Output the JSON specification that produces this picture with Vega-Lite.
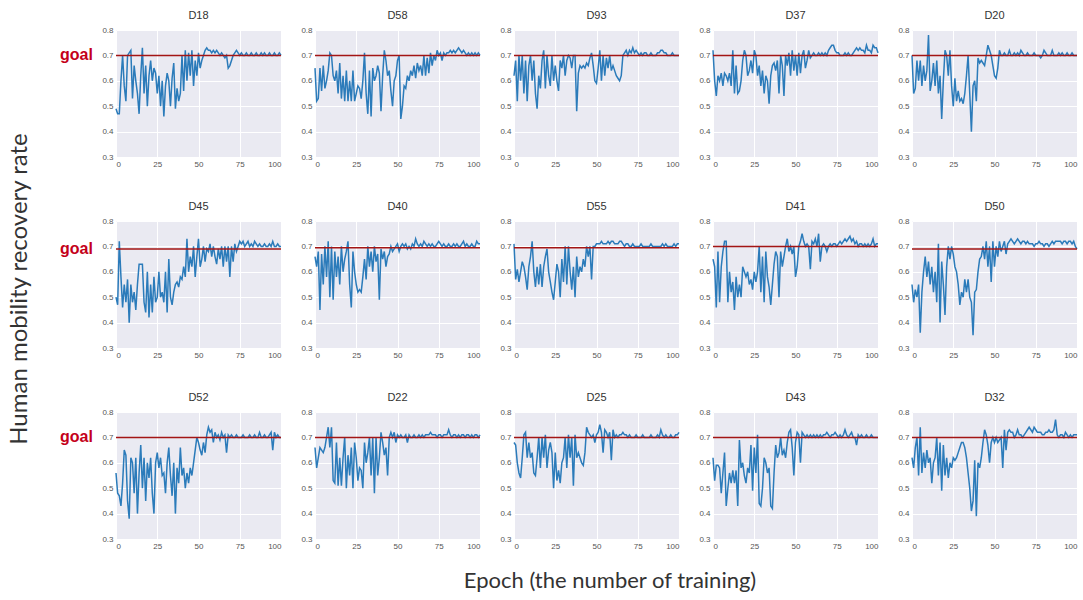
{
"$schema": "https://vega.github.io/schema/vega-lite/v6.json",
"background": "white",
"padding": {"left": 8, "top": 10, "right": 2, "bottom": 2},
"config": {
  "view": {"fill": "#eaeaf2", "stroke": null},
  "axis": {"grid": true, "gridColor": "white", "gridWidth": 1, "domain": false, "ticks": false, "labelFontSize": 8, "labelColor": "#555", "labelFont": "Liberation Sans", "labelPadding": 3, "labelOverlap": false, "labelBound": false, "title": null},
  "axisY": {"tickCount": 6, "format": ".1f"},
  "title": {"fontSize": 11, "fontWeight": "normal", "color": "#333", "font": "Liberation Sans", "offset": 5},
  "concat": {"spacing": 16}
},
"datasets": {
"D18": [{"e":0,"v":0.49},{"e":1,"v":0.47},{"e":2,"v":0.47},{"e":3,"v":0.60},{"e":4,"v":0.70},{"e":5,"v":0.58},{"e":6,"v":0.52},{"e":7,"v":0.70},{"e":8,"v":0.71},{"e":9,"v":0.72},{"e":10,"v":0.53},{"e":11,"v":0.66},{"e":12,"v":0.60},{"e":13,"v":0.55},{"e":14,"v":0.47},{"e":15,"v":0.62},{"e":16,"v":0.73},{"e":17,"v":0.55},{"e":18,"v":0.66},{"e":19,"v":0.50},{"e":20,"v":0.62},{"e":21,"v":0.68},{"e":22,"v":0.60},{"e":23,"v":0.65},{"e":24,"v":0.63},{"e":25,"v":0.55},{"e":26,"v":0.62},{"e":27,"v":0.50},{"e":28,"v":0.60},{"e":29,"v":0.46},{"e":30,"v":0.58},{"e":31,"v":0.63},{"e":32,"v":0.60},{"e":33,"v":0.50},{"e":34,"v":0.61},{"e":35,"v":0.67},{"e":36,"v":0.49},{"e":37,"v":0.57},{"e":38,"v":0.52},{"e":39,"v":0.55},{"e":40,"v":0.70},{"e":41,"v":0.56},{"e":42,"v":0.72},{"e":43,"v":0.60},{"e":44,"v":0.71},{"e":45,"v":0.62},{"e":46,"v":0.72},{"e":47,"v":0.58},{"e":48,"v":0.68},{"e":49,"v":0.62},{"e":50,"v":0.71},{"e":51,"v":0.65},{"e":52,"v":0.68},{"e":53,"v":0.70},{"e":54,"v":0.72},{"e":55,"v":0.73},{"e":56,"v":0.72},{"e":57,"v":0.72},{"e":58,"v":0.71},{"e":59,"v":0.72},{"e":60,"v":0.71},{"e":61,"v":0.72},{"e":62,"v":0.71},{"e":63,"v":0.70},{"e":64,"v":0.71},{"e":65,"v":0.70},{"e":66,"v":0.69},{"e":67,"v":0.70},{"e":68,"v":0.65},{"e":69,"v":0.66},{"e":70,"v":0.68},{"e":71,"v":0.70},{"e":72,"v":0.71},{"e":73,"v":0.72},{"e":74,"v":0.71},{"e":75,"v":0.70},{"e":76,"v":0.71},{"e":77,"v":0.70},{"e":78,"v":0.70},{"e":79,"v":0.71},{"e":80,"v":0.70},{"e":81,"v":0.70},{"e":82,"v":0.71},{"e":83,"v":0.70},{"e":84,"v":0.70},{"e":85,"v":0.71},{"e":86,"v":0.70},{"e":87,"v":0.70},{"e":88,"v":0.71},{"e":89,"v":0.70},{"e":90,"v":0.71},{"e":91,"v":0.70},{"e":92,"v":0.70},{"e":93,"v":0.71},{"e":94,"v":0.70},{"e":95,"v":0.70},{"e":96,"v":0.71},{"e":97,"v":0.70},{"e":98,"v":0.70},{"e":99,"v":0.71},{"e":100,"v":0.70}],
"D58": [{"e":0,"v":0.65},{"e":1,"v":0.52},{"e":2,"v":0.53},{"e":3,"v":0.65},{"e":4,"v":0.56},{"e":5,"v":0.66},{"e":6,"v":0.57},{"e":7,"v":0.60},{"e":8,"v":0.64},{"e":9,"v":0.71},{"e":10,"v":0.70},{"e":11,"v":0.62},{"e":12,"v":0.60},{"e":13,"v":0.64},{"e":14,"v":0.55},{"e":15,"v":0.67},{"e":16,"v":0.53},{"e":17,"v":0.62},{"e":18,"v":0.52},{"e":19,"v":0.64},{"e":20,"v":0.52},{"e":21,"v":0.60},{"e":22,"v":0.52},{"e":23,"v":0.64},{"e":24,"v":0.52},{"e":25,"v":0.55},{"e":26,"v":0.58},{"e":27,"v":0.57},{"e":28,"v":0.53},{"e":29,"v":0.60},{"e":30,"v":0.71},{"e":31,"v":0.55},{"e":32,"v":0.47},{"e":33,"v":0.64},{"e":34,"v":0.46},{"e":35,"v":0.65},{"e":36,"v":0.60},{"e":37,"v":0.62},{"e":38,"v":0.66},{"e":39,"v":0.63},{"e":40,"v":0.48},{"e":41,"v":0.62},{"e":42,"v":0.72},{"e":43,"v":0.68},{"e":44,"v":0.62},{"e":45,"v":0.64},{"e":46,"v":0.56},{"e":47,"v":0.50},{"e":48,"v":0.60},{"e":49,"v":0.62},{"e":50,"v":0.68},{"e":51,"v":0.70},{"e":52,"v":0.45},{"e":53,"v":0.50},{"e":54,"v":0.58},{"e":55,"v":0.57},{"e":56,"v":0.62},{"e":57,"v":0.60},{"e":58,"v":0.64},{"e":59,"v":0.62},{"e":60,"v":0.66},{"e":61,"v":0.61},{"e":62,"v":0.67},{"e":63,"v":0.64},{"e":64,"v":0.66},{"e":65,"v":0.62},{"e":66,"v":0.70},{"e":67,"v":0.62},{"e":68,"v":0.69},{"e":69,"v":0.63},{"e":70,"v":0.71},{"e":71,"v":0.66},{"e":72,"v":0.70},{"e":73,"v":0.68},{"e":74,"v":0.72},{"e":75,"v":0.70},{"e":76,"v":0.71},{"e":77,"v":0.68},{"e":78,"v":0.71},{"e":79,"v":0.70},{"e":80,"v":0.71},{"e":81,"v":0.71},{"e":82,"v":0.72},{"e":83,"v":0.71},{"e":84,"v":0.72},{"e":85,"v":0.71},{"e":86,"v":0.72},{"e":87,"v":0.73},{"e":88,"v":0.72},{"e":89,"v":0.71},{"e":90,"v":0.72},{"e":91,"v":0.71},{"e":92,"v":0.70},{"e":93,"v":0.71},{"e":94,"v":0.70},{"e":95,"v":0.71},{"e":96,"v":0.70},{"e":97,"v":0.71},{"e":98,"v":0.70},{"e":99,"v":0.71},{"e":100,"v":0.70}],
"D93": [{"e":0,"v":0.62},{"e":1,"v":0.68},{"e":2,"v":0.52},{"e":3,"v":0.70},{"e":4,"v":0.60},{"e":5,"v":0.70},{"e":6,"v":0.55},{"e":7,"v":0.68},{"e":8,"v":0.52},{"e":9,"v":0.66},{"e":10,"v":0.70},{"e":11,"v":0.60},{"e":12,"v":0.68},{"e":13,"v":0.55},{"e":14,"v":0.49},{"e":15,"v":0.62},{"e":16,"v":0.57},{"e":17,"v":0.68},{"e":18,"v":0.72},{"e":19,"v":0.57},{"e":20,"v":0.70},{"e":21,"v":0.62},{"e":22,"v":0.58},{"e":23,"v":0.70},{"e":24,"v":0.60},{"e":25,"v":0.66},{"e":26,"v":0.60},{"e":27,"v":0.56},{"e":28,"v":0.68},{"e":29,"v":0.65},{"e":30,"v":0.70},{"e":31,"v":0.62},{"e":32,"v":0.68},{"e":33,"v":0.70},{"e":34,"v":0.69},{"e":35,"v":0.65},{"e":36,"v":0.70},{"e":37,"v":0.70},{"e":38,"v":0.48},{"e":39,"v":0.63},{"e":40,"v":0.66},{"e":41,"v":0.65},{"e":42,"v":0.66},{"e":43,"v":0.65},{"e":44,"v":0.67},{"e":45,"v":0.66},{"e":46,"v":0.69},{"e":47,"v":0.71},{"e":48,"v":0.66},{"e":49,"v":0.60},{"e":50,"v":0.59},{"e":51,"v":0.65},{"e":52,"v":0.72},{"e":53,"v":0.60},{"e":54,"v":0.70},{"e":55,"v":0.62},{"e":56,"v":0.69},{"e":57,"v":0.65},{"e":58,"v":0.70},{"e":59,"v":0.64},{"e":60,"v":0.66},{"e":61,"v":0.64},{"e":62,"v":0.62},{"e":63,"v":0.61},{"e":64,"v":0.60},{"e":65,"v":0.62},{"e":66,"v":0.70},{"e":67,"v":0.71},{"e":68,"v":0.72},{"e":69,"v":0.70},{"e":70,"v":0.72},{"e":71,"v":0.71},{"e":72,"v":0.73},{"e":73,"v":0.71},{"e":74,"v":0.72},{"e":75,"v":0.71},{"e":76,"v":0.70},{"e":77,"v":0.71},{"e":78,"v":0.70},{"e":79,"v":0.71},{"e":80,"v":0.71},{"e":81,"v":0.70},{"e":82,"v":0.70},{"e":83,"v":0.71},{"e":84,"v":0.70},{"e":85,"v":0.70},{"e":86,"v":0.70},{"e":87,"v":0.71},{"e":88,"v":0.71},{"e":89,"v":0.72},{"e":90,"v":0.72},{"e":91,"v":0.71},{"e":92,"v":0.71},{"e":93,"v":0.70},{"e":94,"v":0.70},{"e":95,"v":0.70},{"e":96,"v":0.71},{"e":97,"v":0.70},{"e":98,"v":0.70},{"e":99,"v":0.70},{"e":100,"v":0.70}],
"D37": [{"e":0,"v":0.72},{"e":1,"v":0.60},{"e":2,"v":0.54},{"e":3,"v":0.62},{"e":4,"v":0.60},{"e":5,"v":0.63},{"e":6,"v":0.58},{"e":7,"v":0.63},{"e":8,"v":0.62},{"e":9,"v":0.60},{"e":10,"v":0.63},{"e":11,"v":0.58},{"e":12,"v":0.72},{"e":13,"v":0.55},{"e":14,"v":0.66},{"e":15,"v":0.55},{"e":16,"v":0.56},{"e":17,"v":0.60},{"e":18,"v":0.68},{"e":19,"v":0.72},{"e":20,"v":0.70},{"e":21,"v":0.62},{"e":22,"v":0.64},{"e":23,"v":0.68},{"e":24,"v":0.63},{"e":25,"v":0.72},{"e":26,"v":0.70},{"e":27,"v":0.62},{"e":28,"v":0.66},{"e":29,"v":0.58},{"e":30,"v":0.64},{"e":31,"v":0.55},{"e":32,"v":0.62},{"e":33,"v":0.60},{"e":34,"v":0.51},{"e":35,"v":0.62},{"e":36,"v":0.66},{"e":37,"v":0.67},{"e":38,"v":0.64},{"e":39,"v":0.68},{"e":40,"v":0.55},{"e":41,"v":0.70},{"e":42,"v":0.66},{"e":43,"v":0.54},{"e":44,"v":0.70},{"e":45,"v":0.66},{"e":46,"v":0.71},{"e":47,"v":0.62},{"e":48,"v":0.72},{"e":49,"v":0.64},{"e":50,"v":0.70},{"e":51,"v":0.62},{"e":52,"v":0.71},{"e":53,"v":0.63},{"e":54,"v":0.70},{"e":55,"v":0.72},{"e":56,"v":0.65},{"e":57,"v":0.68},{"e":58,"v":0.72},{"e":59,"v":0.69},{"e":60,"v":0.70},{"e":61,"v":0.71},{"e":62,"v":0.70},{"e":63,"v":0.70},{"e":64,"v":0.71},{"e":65,"v":0.70},{"e":66,"v":0.71},{"e":67,"v":0.70},{"e":68,"v":0.71},{"e":69,"v":0.70},{"e":70,"v":0.72},{"e":71,"v":0.73},{"e":72,"v":0.74},{"e":73,"v":0.74},{"e":74,"v":0.72},{"e":75,"v":0.71},{"e":76,"v":0.71},{"e":77,"v":0.70},{"e":78,"v":0.70},{"e":79,"v":0.70},{"e":80,"v":0.71},{"e":81,"v":0.70},{"e":82,"v":0.71},{"e":83,"v":0.70},{"e":84,"v":0.70},{"e":85,"v":0.71},{"e":86,"v":0.72},{"e":87,"v":0.73},{"e":88,"v":0.72},{"e":89,"v":0.73},{"e":90,"v":0.72},{"e":91,"v":0.72},{"e":92,"v":0.71},{"e":93,"v":0.74},{"e":94,"v":0.72},{"e":95,"v":0.72},{"e":96,"v":0.71},{"e":97,"v":0.74},{"e":98,"v":0.73},{"e":99,"v":0.73},{"e":100,"v":0.71}],
"D20": [{"e":0,"v":0.70},{"e":1,"v":0.55},{"e":2,"v":0.57},{"e":3,"v":0.68},{"e":4,"v":0.60},{"e":5,"v":0.68},{"e":6,"v":0.58},{"e":7,"v":0.66},{"e":8,"v":0.60},{"e":9,"v":0.64},{"e":10,"v":0.78},{"e":11,"v":0.56},{"e":12,"v":0.60},{"e":13,"v":0.67},{"e":14,"v":0.58},{"e":15,"v":0.68},{"e":16,"v":0.55},{"e":17,"v":0.62},{"e":18,"v":0.45},{"e":19,"v":0.60},{"e":20,"v":0.72},{"e":21,"v":0.70},{"e":22,"v":0.62},{"e":23,"v":0.72},{"e":24,"v":0.58},{"e":25,"v":0.50},{"e":26,"v":0.61},{"e":27,"v":0.52},{"e":28,"v":0.56},{"e":29,"v":0.52},{"e":30,"v":0.53},{"e":31,"v":0.51},{"e":32,"v":0.55},{"e":33,"v":0.62},{"e":34,"v":0.70},{"e":35,"v":0.55},{"e":36,"v":0.40},{"e":37,"v":0.58},{"e":38,"v":0.60},{"e":39,"v":0.52},{"e":40,"v":0.69},{"e":41,"v":0.67},{"e":42,"v":0.68},{"e":43,"v":0.67},{"e":44,"v":0.66},{"e":45,"v":0.70},{"e":46,"v":0.74},{"e":47,"v":0.72},{"e":48,"v":0.70},{"e":49,"v":0.66},{"e":50,"v":0.62},{"e":51,"v":0.61},{"e":52,"v":0.65},{"e":53,"v":0.72},{"e":54,"v":0.70},{"e":55,"v":0.70},{"e":56,"v":0.71},{"e":57,"v":0.70},{"e":58,"v":0.70},{"e":59,"v":0.72},{"e":60,"v":0.70},{"e":61,"v":0.70},{"e":62,"v":0.71},{"e":63,"v":0.70},{"e":64,"v":0.71},{"e":65,"v":0.70},{"e":66,"v":0.72},{"e":67,"v":0.71},{"e":68,"v":0.70},{"e":69,"v":0.70},{"e":70,"v":0.71},{"e":71,"v":0.70},{"e":72,"v":0.70},{"e":73,"v":0.70},{"e":74,"v":0.71},{"e":75,"v":0.70},{"e":76,"v":0.70},{"e":77,"v":0.70},{"e":78,"v":0.69},{"e":79,"v":0.70},{"e":80,"v":0.72},{"e":81,"v":0.71},{"e":82,"v":0.70},{"e":83,"v":0.70},{"e":84,"v":0.70},{"e":85,"v":0.72},{"e":86,"v":0.70},{"e":87,"v":0.70},{"e":88,"v":0.70},{"e":89,"v":0.71},{"e":90,"v":0.70},{"e":91,"v":0.71},{"e":92,"v":0.70},{"e":93,"v":0.70},{"e":94,"v":0.71},{"e":95,"v":0.70},{"e":96,"v":0.70},{"e":97,"v":0.71},{"e":98,"v":0.70},{"e":99,"v":0.70},{"e":100,"v":0.70}],
"D45": [{"e":0,"v":0.50},{"e":1,"v":0.47},{"e":2,"v":0.72},{"e":3,"v":0.58},{"e":4,"v":0.46},{"e":5,"v":0.55},{"e":6,"v":0.48},{"e":7,"v":0.57},{"e":8,"v":0.40},{"e":9,"v":0.55},{"e":10,"v":0.48},{"e":11,"v":0.52},{"e":12,"v":0.45},{"e":13,"v":0.55},{"e":14,"v":0.63},{"e":15,"v":0.63},{"e":16,"v":0.63},{"e":17,"v":0.48},{"e":18,"v":0.44},{"e":19,"v":0.60},{"e":20,"v":0.42},{"e":21,"v":0.55},{"e":22,"v":0.44},{"e":23,"v":0.58},{"e":24,"v":0.48},{"e":25,"v":0.50},{"e":26,"v":0.60},{"e":27,"v":0.50},{"e":28,"v":0.52},{"e":29,"v":0.48},{"e":30,"v":0.60},{"e":31,"v":0.44},{"e":32,"v":0.65},{"e":33,"v":0.50},{"e":34,"v":0.47},{"e":35,"v":0.52},{"e":36,"v":0.55},{"e":37,"v":0.56},{"e":38,"v":0.54},{"e":39,"v":0.58},{"e":40,"v":0.57},{"e":41,"v":0.62},{"e":42,"v":0.58},{"e":43,"v":0.73},{"e":44,"v":0.60},{"e":45,"v":0.66},{"e":46,"v":0.62},{"e":47,"v":0.70},{"e":48,"v":0.58},{"e":49,"v":0.66},{"e":50,"v":0.73},{"e":51,"v":0.62},{"e":52,"v":0.65},{"e":53,"v":0.70},{"e":54,"v":0.64},{"e":55,"v":0.69},{"e":56,"v":0.68},{"e":57,"v":0.71},{"e":58,"v":0.66},{"e":59,"v":0.70},{"e":60,"v":0.66},{"e":61,"v":0.63},{"e":62,"v":0.69},{"e":63,"v":0.65},{"e":64,"v":0.70},{"e":65,"v":0.62},{"e":66,"v":0.70},{"e":67,"v":0.64},{"e":68,"v":0.70},{"e":69,"v":0.58},{"e":70,"v":0.70},{"e":71,"v":0.64},{"e":72,"v":0.71},{"e":73,"v":0.68},{"e":74,"v":0.70},{"e":75,"v":0.72},{"e":76,"v":0.71},{"e":77,"v":0.72},{"e":78,"v":0.70},{"e":79,"v":0.71},{"e":80,"v":0.72},{"e":81,"v":0.70},{"e":82,"v":0.71},{"e":83,"v":0.70},{"e":84,"v":0.72},{"e":85,"v":0.71},{"e":86,"v":0.70},{"e":87,"v":0.71},{"e":88,"v":0.70},{"e":89,"v":0.70},{"e":90,"v":0.71},{"e":91,"v":0.70},{"e":92,"v":0.70},{"e":93,"v":0.71},{"e":94,"v":0.70},{"e":95,"v":0.72},{"e":96,"v":0.70},{"e":97,"v":0.70},{"e":98,"v":0.71},{"e":99,"v":0.70},{"e":100,"v":0.70}],
"D40": [{"e":0,"v":0.66},{"e":1,"v":0.62},{"e":2,"v":0.68},{"e":3,"v":0.45},{"e":4,"v":0.67},{"e":5,"v":0.55},{"e":6,"v":0.70},{"e":7,"v":0.58},{"e":8,"v":0.72},{"e":9,"v":0.50},{"e":10,"v":0.70},{"e":11,"v":0.49},{"e":12,"v":0.68},{"e":13,"v":0.58},{"e":14,"v":0.66},{"e":15,"v":0.55},{"e":16,"v":0.70},{"e":17,"v":0.60},{"e":18,"v":0.65},{"e":19,"v":0.68},{"e":20,"v":0.72},{"e":21,"v":0.55},{"e":22,"v":0.46},{"e":23,"v":0.68},{"e":24,"v":0.60},{"e":25,"v":0.55},{"e":26,"v":0.52},{"e":27,"v":0.53},{"e":28,"v":0.52},{"e":29,"v":0.58},{"e":30,"v":0.65},{"e":31,"v":0.57},{"e":32,"v":0.70},{"e":33,"v":0.62},{"e":34,"v":0.68},{"e":35,"v":0.60},{"e":36,"v":0.70},{"e":37,"v":0.64},{"e":38,"v":0.67},{"e":39,"v":0.49},{"e":40,"v":0.69},{"e":41,"v":0.65},{"e":42,"v":0.68},{"e":43,"v":0.62},{"e":44,"v":0.66},{"e":45,"v":0.67},{"e":46,"v":0.70},{"e":47,"v":0.68},{"e":48,"v":0.69},{"e":49,"v":0.70},{"e":50,"v":0.71},{"e":51,"v":0.68},{"e":52,"v":0.70},{"e":53,"v":0.71},{"e":54,"v":0.70},{"e":55,"v":0.71},{"e":56,"v":0.69},{"e":57,"v":0.70},{"e":58,"v":0.69},{"e":59,"v":0.71},{"e":60,"v":0.70},{"e":61,"v":0.73},{"e":62,"v":0.71},{"e":63,"v":0.70},{"e":64,"v":0.71},{"e":65,"v":0.70},{"e":66,"v":0.72},{"e":67,"v":0.71},{"e":68,"v":0.70},{"e":69,"v":0.71},{"e":70,"v":0.70},{"e":71,"v":0.71},{"e":72,"v":0.70},{"e":73,"v":0.70},{"e":74,"v":0.71},{"e":75,"v":0.72},{"e":76,"v":0.71},{"e":77,"v":0.70},{"e":78,"v":0.71},{"e":79,"v":0.70},{"e":80,"v":0.70},{"e":81,"v":0.71},{"e":82,"v":0.70},{"e":83,"v":0.70},{"e":84,"v":0.71},{"e":85,"v":0.70},{"e":86,"v":0.71},{"e":87,"v":0.70},{"e":88,"v":0.70},{"e":89,"v":0.71},{"e":90,"v":0.72},{"e":91,"v":0.70},{"e":92,"v":0.71},{"e":93,"v":0.70},{"e":94,"v":0.70},{"e":95,"v":0.71},{"e":96,"v":0.70},{"e":97,"v":0.70},{"e":98,"v":0.72},{"e":99,"v":0.71},{"e":100,"v":0.71}],
"D55": [{"e":0,"v":0.71},{"e":1,"v":0.57},{"e":2,"v":0.61},{"e":3,"v":0.56},{"e":4,"v":0.60},{"e":5,"v":0.64},{"e":6,"v":0.62},{"e":7,"v":0.58},{"e":8,"v":0.53},{"e":9,"v":0.62},{"e":10,"v":0.66},{"e":11,"v":0.72},{"e":12,"v":0.60},{"e":13,"v":0.54},{"e":14,"v":0.62},{"e":15,"v":0.55},{"e":16,"v":0.63},{"e":17,"v":0.54},{"e":18,"v":0.62},{"e":19,"v":0.66},{"e":20,"v":0.69},{"e":21,"v":0.60},{"e":22,"v":0.56},{"e":23,"v":0.52},{"e":24,"v":0.49},{"e":25,"v":0.56},{"e":26,"v":0.63},{"e":27,"v":0.60},{"e":28,"v":0.50},{"e":29,"v":0.65},{"e":30,"v":0.56},{"e":31,"v":0.70},{"e":32,"v":0.55},{"e":33,"v":0.70},{"e":34,"v":0.60},{"e":35,"v":0.53},{"e":36,"v":0.62},{"e":37,"v":0.50},{"e":38,"v":0.66},{"e":39,"v":0.58},{"e":40,"v":0.62},{"e":41,"v":0.60},{"e":42,"v":0.65},{"e":43,"v":0.62},{"e":44,"v":0.70},{"e":45,"v":0.66},{"e":46,"v":0.70},{"e":47,"v":0.57},{"e":48,"v":0.70},{"e":49,"v":0.70},{"e":50,"v":0.71},{"e":51,"v":0.71},{"e":52,"v":0.71},{"e":53,"v":0.72},{"e":54,"v":0.71},{"e":55,"v":0.71},{"e":56,"v":0.71},{"e":57,"v":0.72},{"e":58,"v":0.71},{"e":59,"v":0.72},{"e":60,"v":0.72},{"e":61,"v":0.71},{"e":62,"v":0.71},{"e":63,"v":0.71},{"e":64,"v":0.72},{"e":65,"v":0.72},{"e":66,"v":0.71},{"e":67,"v":0.70},{"e":68,"v":0.71},{"e":69,"v":0.71},{"e":70,"v":0.70},{"e":71,"v":0.70},{"e":72,"v":0.71},{"e":73,"v":0.70},{"e":74,"v":0.70},{"e":75,"v":0.70},{"e":76,"v":0.70},{"e":77,"v":0.71},{"e":78,"v":0.70},{"e":79,"v":0.70},{"e":80,"v":0.70},{"e":81,"v":0.70},{"e":82,"v":0.70},{"e":83,"v":0.71},{"e":84,"v":0.70},{"e":85,"v":0.70},{"e":86,"v":0.70},{"e":87,"v":0.70},{"e":88,"v":0.70},{"e":89,"v":0.70},{"e":90,"v":0.71},{"e":91,"v":0.70},{"e":92,"v":0.71},{"e":93,"v":0.70},{"e":94,"v":0.70},{"e":95,"v":0.70},{"e":96,"v":0.70},{"e":97,"v":0.71},{"e":98,"v":0.70},{"e":99,"v":0.71},{"e":100,"v":0.71}],
"D41": [{"e":0,"v":0.65},{"e":1,"v":0.62},{"e":2,"v":0.46},{"e":3,"v":0.68},{"e":4,"v":0.48},{"e":5,"v":0.62},{"e":6,"v":0.68},{"e":7,"v":0.72},{"e":8,"v":0.72},{"e":9,"v":0.48},{"e":10,"v":0.60},{"e":11,"v":0.52},{"e":12,"v":0.56},{"e":13,"v":0.45},{"e":14,"v":0.58},{"e":15,"v":0.50},{"e":16,"v":0.55},{"e":17,"v":0.50},{"e":18,"v":0.62},{"e":19,"v":0.60},{"e":20,"v":0.58},{"e":21,"v":0.60},{"e":22,"v":0.55},{"e":23,"v":0.57},{"e":24,"v":0.53},{"e":25,"v":0.60},{"e":26,"v":0.56},{"e":27,"v":0.60},{"e":28,"v":0.70},{"e":29,"v":0.52},{"e":30,"v":0.66},{"e":31,"v":0.48},{"e":32,"v":0.68},{"e":33,"v":0.58},{"e":34,"v":0.54},{"e":35,"v":0.47},{"e":36,"v":0.55},{"e":37,"v":0.63},{"e":38,"v":0.68},{"e":39,"v":0.66},{"e":40,"v":0.50},{"e":41,"v":0.68},{"e":42,"v":0.62},{"e":43,"v":0.66},{"e":44,"v":0.70},{"e":45,"v":0.73},{"e":46,"v":0.68},{"e":47,"v":0.70},{"e":48,"v":0.67},{"e":49,"v":0.70},{"e":50,"v":0.58},{"e":51,"v":0.62},{"e":52,"v":0.70},{"e":53,"v":0.72},{"e":54,"v":0.75},{"e":55,"v":0.72},{"e":56,"v":0.70},{"e":57,"v":0.71},{"e":58,"v":0.70},{"e":59,"v":0.61},{"e":60,"v":0.72},{"e":61,"v":0.71},{"e":62,"v":0.73},{"e":63,"v":0.70},{"e":64,"v":0.75},{"e":65,"v":0.64},{"e":66,"v":0.70},{"e":67,"v":0.71},{"e":68,"v":0.70},{"e":69,"v":0.68},{"e":70,"v":0.70},{"e":71,"v":0.71},{"e":72,"v":0.70},{"e":73,"v":0.71},{"e":74,"v":0.71},{"e":75,"v":0.70},{"e":76,"v":0.71},{"e":77,"v":0.72},{"e":78,"v":0.71},{"e":79,"v":0.72},{"e":80,"v":0.73},{"e":81,"v":0.72},{"e":82,"v":0.73},{"e":83,"v":0.74},{"e":84,"v":0.72},{"e":85,"v":0.73},{"e":86,"v":0.71},{"e":87,"v":0.72},{"e":88,"v":0.70},{"e":89,"v":0.71},{"e":90,"v":0.71},{"e":91,"v":0.70},{"e":92,"v":0.71},{"e":93,"v":0.70},{"e":94,"v":0.71},{"e":95,"v":0.70},{"e":96,"v":0.71},{"e":97,"v":0.73},{"e":98,"v":0.70},{"e":99,"v":0.71},{"e":100,"v":0.71}],
"D50": [{"e":0,"v":0.55},{"e":1,"v":0.48},{"e":2,"v":0.53},{"e":3,"v":0.50},{"e":4,"v":0.55},{"e":5,"v":0.36},{"e":6,"v":0.52},{"e":7,"v":0.60},{"e":8,"v":0.66},{"e":9,"v":0.58},{"e":10,"v":0.64},{"e":11,"v":0.55},{"e":12,"v":0.62},{"e":13,"v":0.52},{"e":14,"v":0.60},{"e":15,"v":0.48},{"e":16,"v":0.71},{"e":17,"v":0.40},{"e":18,"v":0.64},{"e":19,"v":0.55},{"e":20,"v":0.43},{"e":21,"v":0.62},{"e":22,"v":0.70},{"e":23,"v":0.65},{"e":24,"v":0.70},{"e":25,"v":0.67},{"e":26,"v":0.62},{"e":27,"v":0.60},{"e":28,"v":0.55},{"e":29,"v":0.47},{"e":30,"v":0.52},{"e":31,"v":0.50},{"e":32,"v":0.57},{"e":33,"v":0.52},{"e":34,"v":0.57},{"e":35,"v":0.50},{"e":36,"v":0.48},{"e":37,"v":0.35},{"e":38,"v":0.52},{"e":39,"v":0.53},{"e":40,"v":0.60},{"e":41,"v":0.65},{"e":42,"v":0.66},{"e":43,"v":0.70},{"e":44,"v":0.65},{"e":45,"v":0.72},{"e":46,"v":0.62},{"e":47,"v":0.70},{"e":48,"v":0.56},{"e":49,"v":0.72},{"e":50,"v":0.62},{"e":51,"v":0.70},{"e":52,"v":0.66},{"e":53,"v":0.72},{"e":54,"v":0.68},{"e":55,"v":0.70},{"e":56,"v":0.72},{"e":57,"v":0.67},{"e":58,"v":0.71},{"e":59,"v":0.72},{"e":60,"v":0.73},{"e":61,"v":0.72},{"e":62,"v":0.71},{"e":63,"v":0.72},{"e":64,"v":0.73},{"e":65,"v":0.72},{"e":66,"v":0.71},{"e":67,"v":0.72},{"e":68,"v":0.72},{"e":69,"v":0.71},{"e":70,"v":0.72},{"e":71,"v":0.71},{"e":72,"v":0.71},{"e":73,"v":0.71},{"e":74,"v":0.70},{"e":75,"v":0.71},{"e":76,"v":0.71},{"e":77,"v":0.72},{"e":78,"v":0.71},{"e":79,"v":0.71},{"e":80,"v":0.70},{"e":81,"v":0.71},{"e":82,"v":0.71},{"e":83,"v":0.70},{"e":84,"v":0.71},{"e":85,"v":0.72},{"e":86,"v":0.71},{"e":87,"v":0.72},{"e":88,"v":0.72},{"e":89,"v":0.72},{"e":90,"v":0.72},{"e":91,"v":0.71},{"e":92,"v":0.72},{"e":93,"v":0.72},{"e":94,"v":0.71},{"e":95,"v":0.72},{"e":96,"v":0.72},{"e":97,"v":0.71},{"e":98,"v":0.72},{"e":99,"v":0.70},{"e":100,"v":0.69}],
"D52": [{"e":0,"v":0.56},{"e":1,"v":0.48},{"e":2,"v":0.47},{"e":3,"v":0.43},{"e":4,"v":0.52},{"e":5,"v":0.65},{"e":6,"v":0.63},{"e":7,"v":0.45},{"e":8,"v":0.38},{"e":9,"v":0.62},{"e":10,"v":0.60},{"e":11,"v":0.48},{"e":12,"v":0.62},{"e":13,"v":0.40},{"e":14,"v":0.56},{"e":15,"v":0.67},{"e":16,"v":0.50},{"e":17,"v":0.62},{"e":18,"v":0.45},{"e":19,"v":0.60},{"e":20,"v":0.54},{"e":21,"v":0.62},{"e":22,"v":0.48},{"e":23,"v":0.40},{"e":24,"v":0.60},{"e":25,"v":0.64},{"e":26,"v":0.58},{"e":27,"v":0.62},{"e":28,"v":0.55},{"e":29,"v":0.56},{"e":30,"v":0.48},{"e":31,"v":0.60},{"e":32,"v":0.66},{"e":33,"v":0.55},{"e":34,"v":0.47},{"e":35,"v":0.60},{"e":36,"v":0.40},{"e":37,"v":0.58},{"e":38,"v":0.52},{"e":39,"v":0.66},{"e":40,"v":0.55},{"e":41,"v":0.58},{"e":42,"v":0.50},{"e":43,"v":0.56},{"e":44,"v":0.52},{"e":45,"v":0.58},{"e":46,"v":0.55},{"e":47,"v":0.60},{"e":48,"v":0.65},{"e":49,"v":0.70},{"e":50,"v":0.68},{"e":51,"v":0.65},{"e":52,"v":0.63},{"e":53,"v":0.68},{"e":54,"v":0.64},{"e":55,"v":0.71},{"e":56,"v":0.74},{"e":57,"v":0.72},{"e":58,"v":0.73},{"e":59,"v":0.68},{"e":60,"v":0.72},{"e":61,"v":0.70},{"e":62,"v":0.71},{"e":63,"v":0.69},{"e":64,"v":0.72},{"e":65,"v":0.70},{"e":66,"v":0.71},{"e":67,"v":0.64},{"e":68,"v":0.71},{"e":69,"v":0.70},{"e":70,"v":0.71},{"e":71,"v":0.70},{"e":72,"v":0.70},{"e":73,"v":0.71},{"e":74,"v":0.70},{"e":75,"v":0.70},{"e":76,"v":0.70},{"e":77,"v":0.71},{"e":78,"v":0.70},{"e":79,"v":0.70},{"e":80,"v":0.70},{"e":81,"v":0.71},{"e":82,"v":0.70},{"e":83,"v":0.70},{"e":84,"v":0.71},{"e":85,"v":0.70},{"e":86,"v":0.70},{"e":87,"v":0.72},{"e":88,"v":0.70},{"e":89,"v":0.70},{"e":90,"v":0.71},{"e":91,"v":0.70},{"e":92,"v":0.70},{"e":93,"v":0.71},{"e":94,"v":0.72},{"e":95,"v":0.65},{"e":96,"v":0.72},{"e":97,"v":0.70},{"e":98,"v":0.71},{"e":99,"v":0.70},{"e":100,"v":0.70}],
"D22": [{"e":0,"v":0.66},{"e":1,"v":0.58},{"e":2,"v":0.62},{"e":3,"v":0.66},{"e":4,"v":0.65},{"e":5,"v":0.64},{"e":6,"v":0.66},{"e":7,"v":0.70},{"e":8,"v":0.74},{"e":9,"v":0.66},{"e":10,"v":0.74},{"e":11,"v":0.53},{"e":12,"v":0.52},{"e":13,"v":0.68},{"e":14,"v":0.51},{"e":15,"v":0.62},{"e":16,"v":0.51},{"e":17,"v":0.62},{"e":18,"v":0.70},{"e":19,"v":0.50},{"e":20,"v":0.63},{"e":21,"v":0.55},{"e":22,"v":0.66},{"e":23,"v":0.50},{"e":24,"v":0.68},{"e":25,"v":0.62},{"e":26,"v":0.53},{"e":27,"v":0.58},{"e":28,"v":0.57},{"e":29,"v":0.50},{"e":30,"v":0.68},{"e":31,"v":0.60},{"e":32,"v":0.64},{"e":33,"v":0.70},{"e":34,"v":0.55},{"e":35,"v":0.70},{"e":36,"v":0.48},{"e":37,"v":0.70},{"e":38,"v":0.55},{"e":39,"v":0.62},{"e":40,"v":0.72},{"e":41,"v":0.68},{"e":42,"v":0.63},{"e":43,"v":0.66},{"e":44,"v":0.55},{"e":45,"v":0.70},{"e":46,"v":0.72},{"e":47,"v":0.70},{"e":48,"v":0.72},{"e":49,"v":0.68},{"e":50,"v":0.71},{"e":51,"v":0.70},{"e":52,"v":0.71},{"e":53,"v":0.70},{"e":54,"v":0.70},{"e":55,"v":0.71},{"e":56,"v":0.68},{"e":57,"v":0.71},{"e":58,"v":0.70},{"e":59,"v":0.70},{"e":60,"v":0.71},{"e":61,"v":0.70},{"e":62,"v":0.70},{"e":63,"v":0.71},{"e":64,"v":0.70},{"e":65,"v":0.71},{"e":66,"v":0.70},{"e":67,"v":0.71},{"e":68,"v":0.71},{"e":69,"v":0.71},{"e":70,"v":0.72},{"e":71,"v":0.71},{"e":72,"v":0.71},{"e":73,"v":0.71},{"e":74,"v":0.70},{"e":75,"v":0.71},{"e":76,"v":0.71},{"e":77,"v":0.70},{"e":78,"v":0.71},{"e":79,"v":0.71},{"e":80,"v":0.71},{"e":81,"v":0.73},{"e":82,"v":0.71},{"e":83,"v":0.70},{"e":84,"v":0.71},{"e":85,"v":0.71},{"e":86,"v":0.70},{"e":87,"v":0.71},{"e":88,"v":0.70},{"e":89,"v":0.71},{"e":90,"v":0.71},{"e":91,"v":0.70},{"e":92,"v":0.71},{"e":93,"v":0.71},{"e":94,"v":0.70},{"e":95,"v":0.71},{"e":96,"v":0.70},{"e":97,"v":0.71},{"e":98,"v":0.71},{"e":99,"v":0.70},{"e":100,"v":0.71}],
"D25": [{"e":0,"v":0.68},{"e":1,"v":0.67},{"e":2,"v":0.60},{"e":3,"v":0.56},{"e":4,"v":0.54},{"e":5,"v":0.62},{"e":6,"v":0.71},{"e":7,"v":0.72},{"e":8,"v":0.62},{"e":9,"v":0.68},{"e":10,"v":0.62},{"e":11,"v":0.64},{"e":12,"v":0.56},{"e":13,"v":0.55},{"e":14,"v":0.62},{"e":15,"v":0.70},{"e":16,"v":0.58},{"e":17,"v":0.70},{"e":18,"v":0.62},{"e":19,"v":0.71},{"e":20,"v":0.58},{"e":21,"v":0.65},{"e":22,"v":0.68},{"e":23,"v":0.64},{"e":24,"v":0.50},{"e":25,"v":0.64},{"e":26,"v":0.53},{"e":27,"v":0.57},{"e":28,"v":0.52},{"e":29,"v":0.60},{"e":30,"v":0.62},{"e":31,"v":0.70},{"e":32,"v":0.58},{"e":33,"v":0.71},{"e":34,"v":0.62},{"e":35,"v":0.70},{"e":36,"v":0.51},{"e":37,"v":0.71},{"e":38,"v":0.62},{"e":39,"v":0.64},{"e":40,"v":0.62},{"e":41,"v":0.60},{"e":42,"v":0.59},{"e":43,"v":0.64},{"e":44,"v":0.74},{"e":45,"v":0.72},{"e":46,"v":0.71},{"e":47,"v":0.70},{"e":48,"v":0.71},{"e":49,"v":0.68},{"e":50,"v":0.71},{"e":51,"v":0.72},{"e":52,"v":0.75},{"e":53,"v":0.72},{"e":54,"v":0.64},{"e":55,"v":0.73},{"e":56,"v":0.72},{"e":57,"v":0.70},{"e":58,"v":0.72},{"e":59,"v":0.61},{"e":60,"v":0.73},{"e":61,"v":0.70},{"e":62,"v":0.71},{"e":63,"v":0.70},{"e":64,"v":0.71},{"e":65,"v":0.71},{"e":66,"v":0.72},{"e":67,"v":0.71},{"e":68,"v":0.71},{"e":69,"v":0.70},{"e":70,"v":0.71},{"e":71,"v":0.70},{"e":72,"v":0.70},{"e":73,"v":0.70},{"e":74,"v":0.71},{"e":75,"v":0.70},{"e":76,"v":0.70},{"e":77,"v":0.70},{"e":78,"v":0.71},{"e":79,"v":0.70},{"e":80,"v":0.70},{"e":81,"v":0.70},{"e":82,"v":0.70},{"e":83,"v":0.71},{"e":84,"v":0.70},{"e":85,"v":0.70},{"e":86,"v":0.70},{"e":87,"v":0.71},{"e":88,"v":0.70},{"e":89,"v":0.73},{"e":90,"v":0.71},{"e":91,"v":0.70},{"e":92,"v":0.71},{"e":93,"v":0.70},{"e":94,"v":0.70},{"e":95,"v":0.71},{"e":96,"v":0.70},{"e":97,"v":0.70},{"e":98,"v":0.71},{"e":99,"v":0.71},{"e":100,"v":0.72}],
"D43": [{"e":0,"v":0.62},{"e":1,"v":0.53},{"e":2,"v":0.59},{"e":3,"v":0.59},{"e":4,"v":0.58},{"e":5,"v":0.48},{"e":6,"v":0.56},{"e":7,"v":0.64},{"e":8,"v":0.43},{"e":9,"v":0.50},{"e":10,"v":0.56},{"e":11,"v":0.52},{"e":12,"v":0.57},{"e":13,"v":0.52},{"e":14,"v":0.57},{"e":15,"v":0.43},{"e":16,"v":0.69},{"e":17,"v":0.58},{"e":18,"v":0.60},{"e":19,"v":0.55},{"e":20,"v":0.52},{"e":21,"v":0.58},{"e":22,"v":0.56},{"e":23,"v":0.67},{"e":24,"v":0.49},{"e":25,"v":0.66},{"e":26,"v":0.56},{"e":27,"v":0.71},{"e":28,"v":0.44},{"e":29,"v":0.43},{"e":30,"v":0.50},{"e":31,"v":0.62},{"e":32,"v":0.60},{"e":33,"v":0.56},{"e":34,"v":0.58},{"e":35,"v":0.43},{"e":36,"v":0.42},{"e":37,"v":0.56},{"e":38,"v":0.67},{"e":39,"v":0.62},{"e":40,"v":0.64},{"e":41,"v":0.70},{"e":42,"v":0.63},{"e":43,"v":0.65},{"e":44,"v":0.62},{"e":45,"v":0.68},{"e":46,"v":0.72},{"e":47,"v":0.73},{"e":48,"v":0.66},{"e":49,"v":0.55},{"e":50,"v":0.68},{"e":51,"v":0.72},{"e":52,"v":0.71},{"e":53,"v":0.60},{"e":54,"v":0.72},{"e":55,"v":0.71},{"e":56,"v":0.70},{"e":57,"v":0.71},{"e":58,"v":0.70},{"e":59,"v":0.71},{"e":60,"v":0.70},{"e":61,"v":0.71},{"e":62,"v":0.70},{"e":63,"v":0.71},{"e":64,"v":0.70},{"e":65,"v":0.71},{"e":66,"v":0.70},{"e":67,"v":0.71},{"e":68,"v":0.71},{"e":69,"v":0.72},{"e":70,"v":0.71},{"e":71,"v":0.70},{"e":72,"v":0.71},{"e":73,"v":0.71},{"e":74,"v":0.72},{"e":75,"v":0.71},{"e":76,"v":0.70},{"e":77,"v":0.71},{"e":78,"v":0.70},{"e":79,"v":0.71},{"e":80,"v":0.73},{"e":81,"v":0.71},{"e":82,"v":0.70},{"e":83,"v":0.71},{"e":84,"v":0.72},{"e":85,"v":0.70},{"e":86,"v":0.70},{"e":87,"v":0.67},{"e":88,"v":0.71},{"e":89,"v":0.70},{"e":90,"v":0.71},{"e":91,"v":0.70},{"e":92,"v":0.70},{"e":93,"v":0.71},{"e":94,"v":0.70},{"e":95,"v":0.70},{"e":96,"v":0.71},{"e":97,"v":0.70},{"e":98,"v":0.70},{"e":99,"v":0.70},{"e":100,"v":0.70}],
"D32": [{"e":0,"v":0.62},{"e":1,"v":0.58},{"e":2,"v":0.66},{"e":3,"v":0.70},{"e":4,"v":0.55},{"e":5,"v":0.74},{"e":6,"v":0.56},{"e":7,"v":0.64},{"e":8,"v":0.58},{"e":9,"v":0.65},{"e":10,"v":0.60},{"e":11,"v":0.62},{"e":12,"v":0.52},{"e":13,"v":0.60},{"e":14,"v":0.62},{"e":15,"v":0.70},{"e":16,"v":0.55},{"e":17,"v":0.68},{"e":18,"v":0.49},{"e":19,"v":0.67},{"e":20,"v":0.55},{"e":21,"v":0.62},{"e":22,"v":0.54},{"e":23,"v":0.60},{"e":24,"v":0.58},{"e":25,"v":0.62},{"e":26,"v":0.61},{"e":27,"v":0.62},{"e":28,"v":0.64},{"e":29,"v":0.66},{"e":30,"v":0.68},{"e":31,"v":0.68},{"e":32,"v":0.66},{"e":33,"v":0.62},{"e":34,"v":0.56},{"e":35,"v":0.50},{"e":36,"v":0.41},{"e":37,"v":0.45},{"e":38,"v":0.61},{"e":39,"v":0.39},{"e":40,"v":0.60},{"e":41,"v":0.58},{"e":42,"v":0.62},{"e":43,"v":0.68},{"e":44,"v":0.73},{"e":45,"v":0.71},{"e":46,"v":0.67},{"e":47,"v":0.60},{"e":48,"v":0.68},{"e":49,"v":0.70},{"e":50,"v":0.68},{"e":51,"v":0.70},{"e":52,"v":0.68},{"e":53,"v":0.69},{"e":54,"v":0.70},{"e":55,"v":0.58},{"e":56,"v":0.73},{"e":57,"v":0.65},{"e":58,"v":0.72},{"e":59,"v":0.73},{"e":60,"v":0.72},{"e":61,"v":0.72},{"e":62,"v":0.70},{"e":63,"v":0.71},{"e":64,"v":0.73},{"e":65,"v":0.71},{"e":66,"v":0.71},{"e":67,"v":0.70},{"e":68,"v":0.71},{"e":69,"v":0.72},{"e":70,"v":0.73},{"e":71,"v":0.74},{"e":72,"v":0.73},{"e":73,"v":0.72},{"e":74,"v":0.74},{"e":75,"v":0.73},{"e":76,"v":0.72},{"e":77,"v":0.72},{"e":78,"v":0.72},{"e":79,"v":0.71},{"e":80,"v":0.71},{"e":81,"v":0.72},{"e":82,"v":0.72},{"e":83,"v":0.73},{"e":84,"v":0.72},{"e":85,"v":0.72},{"e":86,"v":0.73},{"e":87,"v":0.77},{"e":88,"v":0.71},{"e":89,"v":0.70},{"e":90,"v":0.71},{"e":91,"v":0.71},{"e":92,"v":0.70},{"e":93,"v":0.72},{"e":94,"v":0.71},{"e":95,"v":0.70},{"e":96,"v":0.71},{"e":97,"v":0.70},{"e":98,"v":0.71},{"e":99,"v":0.71},{"e":100,"v":0.71}]
},
"title": {"text": "Human mobility recovery rate", "orient": "left", "anchor": "middle", "fontSize": 24, "font": "Lato", "fontWeight": "normal", "color": "#333", "offset": 28, "dx": 12},
"vconcat": [{
"title": {"text": "Epoch (the number of training)", "orient": "bottom", "anchor": "middle", "fontSize": 22, "font": "Lato", "fontWeight": "normal", "color": "#333", "offset": 21, "dx": 40},
"spacing": 33,
"vconcat": [
{"hconcat": [
{"title": "D18", "width": 165, "height": 127, "layer": [
 {"data": {"name": "D18"}, "mark": {"type": "line", "color": "#2b7bba", "strokeWidth": 1.5}, "encoding": {"x": {"field": "e", "type": "quantitative", "scale": {"domain": [0, 100]}, "axis": {"values": [0, 25, 50, 75, 100]}}, "y": {"field": "v", "type": "quantitative", "scale": {"domain": [0.3, 0.8]}, "axis": {"values": [0.3, 0.4, 0.5, 0.6, 0.7, 0.8], "format": ".1f"}}}},
 {"data": {"values": [{"g": 0.7}]}, "mark": {"type": "rule", "color": "#a31515", "strokeWidth": 1.5}, "encoding": {"y": {"field": "g", "type": "quantitative", "axis": {"values": [0.3, 0.4, 0.5, 0.6, 0.7, 0.8], "format": ".1f"}}}},
 {"data": {"values": [{"x": -14, "g": 0.7, "t": "goal"}]}, "mark": {"type": "text", "align": "right", "baseline": "middle", "font": "Liberation Sans", "fontSize": 16, "fontWeight": "bold", "color": "#c4001a"}, "encoding": {"x": {"field": "x", "type": "quantitative", "axis": {"values": [0, 25, 50, 75, 100]}}, "y": {"field": "g", "type": "quantitative", "axis": {"values": [0.3, 0.4, 0.5, 0.6, 0.7, 0.8], "format": ".1f"}}, "text": {"field": "t"}}}
]},
{"title": "D58", "width": 165, "height": 127, "layer": [
 {"data": {"name": "D58"}, "mark": {"type": "line", "color": "#2b7bba", "strokeWidth": 1.5}, "encoding": {"x": {"field": "e", "type": "quantitative", "scale": {"domain": [0, 100]}, "axis": {"values": [0, 25, 50, 75, 100]}}, "y": {"field": "v", "type": "quantitative", "scale": {"domain": [0.3, 0.8]}, "axis": {"values": [0.3, 0.4, 0.5, 0.6, 0.7, 0.8], "format": ".1f"}}}},
 {"data": {"values": [{"g": 0.7}]}, "mark": {"type": "rule", "color": "#a31515", "strokeWidth": 1.5}, "encoding": {"y": {"field": "g", "type": "quantitative", "axis": {"values": [0.3, 0.4, 0.5, 0.6, 0.7, 0.8], "format": ".1f"}}}}
]},
{"title": "D93", "width": 165, "height": 127, "layer": [
 {"data": {"name": "D93"}, "mark": {"type": "line", "color": "#2b7bba", "strokeWidth": 1.5}, "encoding": {"x": {"field": "e", "type": "quantitative", "scale": {"domain": [0, 100]}, "axis": {"values": [0, 25, 50, 75, 100]}}, "y": {"field": "v", "type": "quantitative", "scale": {"domain": [0.3, 0.8]}, "axis": {"values": [0.3, 0.4, 0.5, 0.6, 0.7, 0.8], "format": ".1f"}}}},
 {"data": {"values": [{"g": 0.7}]}, "mark": {"type": "rule", "color": "#a31515", "strokeWidth": 1.5}, "encoding": {"y": {"field": "g", "type": "quantitative", "axis": {"values": [0.3, 0.4, 0.5, 0.6, 0.7, 0.8], "format": ".1f"}}}}
]},
{"title": "D37", "width": 165, "height": 127, "layer": [
 {"data": {"name": "D37"}, "mark": {"type": "line", "color": "#2b7bba", "strokeWidth": 1.5}, "encoding": {"x": {"field": "e", "type": "quantitative", "scale": {"domain": [0, 100]}, "axis": {"values": [0, 25, 50, 75, 100]}}, "y": {"field": "v", "type": "quantitative", "scale": {"domain": [0.3, 0.8]}, "axis": {"values": [0.3, 0.4, 0.5, 0.6, 0.7, 0.8], "format": ".1f"}}}},
 {"data": {"values": [{"g": 0.7}]}, "mark": {"type": "rule", "color": "#a31515", "strokeWidth": 1.5}, "encoding": {"y": {"field": "g", "type": "quantitative", "axis": {"values": [0.3, 0.4, 0.5, 0.6, 0.7, 0.8], "format": ".1f"}}}}
]},
{"title": "D20", "width": 165, "height": 127, "layer": [
 {"data": {"name": "D20"}, "mark": {"type": "line", "color": "#2b7bba", "strokeWidth": 1.5}, "encoding": {"x": {"field": "e", "type": "quantitative", "scale": {"domain": [0, 100]}, "axis": {"values": [0, 25, 50, 75, 100]}}, "y": {"field": "v", "type": "quantitative", "scale": {"domain": [0.3, 0.8]}, "axis": {"values": [0.3, 0.4, 0.5, 0.6, 0.7, 0.8], "format": ".1f"}}}},
 {"data": {"values": [{"g": 0.7}]}, "mark": {"type": "rule", "color": "#a31515", "strokeWidth": 1.5}, "encoding": {"y": {"field": "g", "type": "quantitative", "axis": {"values": [0.3, 0.4, 0.5, 0.6, 0.7, 0.8], "format": ".1f"}}}}
]}
]},
{"hconcat": [
{"title": "D45", "width": 165, "height": 127, "layer": [
 {"data": {"name": "D45"}, "mark": {"type": "line", "color": "#2b7bba", "strokeWidth": 1.5}, "encoding": {"x": {"field": "e", "type": "quantitative", "scale": {"domain": [0, 100]}, "axis": {"values": [0, 25, 50, 75, 100]}}, "y": {"field": "v", "type": "quantitative", "scale": {"domain": [0.3, 0.8]}, "axis": {"values": [0.3, 0.4, 0.5, 0.6, 0.7, 0.8], "format": ".1f"}}}},
 {"data": {"values": [{"g": 0.69}]}, "mark": {"type": "rule", "color": "#a31515", "strokeWidth": 1.5}, "encoding": {"y": {"field": "g", "type": "quantitative", "axis": {"values": [0.3, 0.4, 0.5, 0.6, 0.7, 0.8], "format": ".1f"}}}},
 {"data": {"values": [{"x": -14, "g": 0.69, "t": "goal"}]}, "mark": {"type": "text", "align": "right", "baseline": "middle", "font": "Liberation Sans", "fontSize": 16, "fontWeight": "bold", "color": "#c4001a"}, "encoding": {"x": {"field": "x", "type": "quantitative", "axis": {"values": [0, 25, 50, 75, 100]}}, "y": {"field": "g", "type": "quantitative", "axis": {"values": [0.3, 0.4, 0.5, 0.6, 0.7, 0.8], "format": ".1f"}}, "text": {"field": "t"}}}
]},
{"title": "D40", "width": 165, "height": 127, "layer": [
 {"data": {"name": "D40"}, "mark": {"type": "line", "color": "#2b7bba", "strokeWidth": 1.5}, "encoding": {"x": {"field": "e", "type": "quantitative", "scale": {"domain": [0, 100]}, "axis": {"values": [0, 25, 50, 75, 100]}}, "y": {"field": "v", "type": "quantitative", "scale": {"domain": [0.3, 0.8]}, "axis": {"values": [0.3, 0.4, 0.5, 0.6, 0.7, 0.8], "format": ".1f"}}}},
 {"data": {"values": [{"g": 0.695}]}, "mark": {"type": "rule", "color": "#a31515", "strokeWidth": 1.5}, "encoding": {"y": {"field": "g", "type": "quantitative", "axis": {"values": [0.3, 0.4, 0.5, 0.6, 0.7, 0.8], "format": ".1f"}}}}
]},
{"title": "D55", "width": 165, "height": 127, "layer": [
 {"data": {"name": "D55"}, "mark": {"type": "line", "color": "#2b7bba", "strokeWidth": 1.5}, "encoding": {"x": {"field": "e", "type": "quantitative", "scale": {"domain": [0, 100]}, "axis": {"values": [0, 25, 50, 75, 100]}}, "y": {"field": "v", "type": "quantitative", "scale": {"domain": [0.3, 0.8]}, "axis": {"values": [0.3, 0.4, 0.5, 0.6, 0.7, 0.8], "format": ".1f"}}}},
 {"data": {"values": [{"g": 0.695}]}, "mark": {"type": "rule", "color": "#a31515", "strokeWidth": 1.5}, "encoding": {"y": {"field": "g", "type": "quantitative", "axis": {"values": [0.3, 0.4, 0.5, 0.6, 0.7, 0.8], "format": ".1f"}}}}
]},
{"title": "D41", "width": 165, "height": 127, "layer": [
 {"data": {"name": "D41"}, "mark": {"type": "line", "color": "#2b7bba", "strokeWidth": 1.5}, "encoding": {"x": {"field": "e", "type": "quantitative", "scale": {"domain": [0, 100]}, "axis": {"values": [0, 25, 50, 75, 100]}}, "y": {"field": "v", "type": "quantitative", "scale": {"domain": [0.3, 0.8]}, "axis": {"values": [0.3, 0.4, 0.5, 0.6, 0.7, 0.8], "format": ".1f"}}}},
 {"data": {"values": [{"g": 0.7}]}, "mark": {"type": "rule", "color": "#a31515", "strokeWidth": 1.5}, "encoding": {"y": {"field": "g", "type": "quantitative", "axis": {"values": [0.3, 0.4, 0.5, 0.6, 0.7, 0.8], "format": ".1f"}}}}
]},
{"title": "D50", "width": 165, "height": 127, "layer": [
 {"data": {"name": "D50"}, "mark": {"type": "line", "color": "#2b7bba", "strokeWidth": 1.5}, "encoding": {"x": {"field": "e", "type": "quantitative", "scale": {"domain": [0, 100]}, "axis": {"values": [0, 25, 50, 75, 100]}}, "y": {"field": "v", "type": "quantitative", "scale": {"domain": [0.3, 0.8]}, "axis": {"values": [0.3, 0.4, 0.5, 0.6, 0.7, 0.8], "format": ".1f"}}}},
 {"data": {"values": [{"g": 0.69}]}, "mark": {"type": "rule", "color": "#a31515", "strokeWidth": 1.5}, "encoding": {"y": {"field": "g", "type": "quantitative", "axis": {"values": [0.3, 0.4, 0.5, 0.6, 0.7, 0.8], "format": ".1f"}}}}
]}
]},
{"hconcat": [
{"title": "D52", "width": 165, "height": 127, "layer": [
 {"data": {"name": "D52"}, "mark": {"type": "line", "color": "#2b7bba", "strokeWidth": 1.5}, "encoding": {"x": {"field": "e", "type": "quantitative", "scale": {"domain": [0, 100]}, "axis": {"values": [0, 25, 50, 75, 100]}}, "y": {"field": "v", "type": "quantitative", "scale": {"domain": [0.3, 0.8]}, "axis": {"values": [0.3, 0.4, 0.5, 0.6, 0.7, 0.8], "format": ".1f"}}}},
 {"data": {"values": [{"g": 0.7}]}, "mark": {"type": "rule", "color": "#a31515", "strokeWidth": 1.5}, "encoding": {"y": {"field": "g", "type": "quantitative", "axis": {"values": [0.3, 0.4, 0.5, 0.6, 0.7, 0.8], "format": ".1f"}}}},
 {"data": {"values": [{"x": -14, "g": 0.7, "t": "goal"}]}, "mark": {"type": "text", "align": "right", "baseline": "middle", "font": "Liberation Sans", "fontSize": 16, "fontWeight": "bold", "color": "#c4001a"}, "encoding": {"x": {"field": "x", "type": "quantitative", "axis": {"values": [0, 25, 50, 75, 100]}}, "y": {"field": "g", "type": "quantitative", "axis": {"values": [0.3, 0.4, 0.5, 0.6, 0.7, 0.8], "format": ".1f"}}, "text": {"field": "t"}}}
]},
{"title": "D22", "width": 165, "height": 127, "layer": [
 {"data": {"name": "D22"}, "mark": {"type": "line", "color": "#2b7bba", "strokeWidth": 1.5}, "encoding": {"x": {"field": "e", "type": "quantitative", "scale": {"domain": [0, 100]}, "axis": {"values": [0, 25, 50, 75, 100]}}, "y": {"field": "v", "type": "quantitative", "scale": {"domain": [0.3, 0.8]}, "axis": {"values": [0.3, 0.4, 0.5, 0.6, 0.7, 0.8], "format": ".1f"}}}},
 {"data": {"values": [{"g": 0.7}]}, "mark": {"type": "rule", "color": "#a31515", "strokeWidth": 1.5}, "encoding": {"y": {"field": "g", "type": "quantitative", "axis": {"values": [0.3, 0.4, 0.5, 0.6, 0.7, 0.8], "format": ".1f"}}}}
]},
{"title": "D25", "width": 165, "height": 127, "layer": [
 {"data": {"name": "D25"}, "mark": {"type": "line", "color": "#2b7bba", "strokeWidth": 1.5}, "encoding": {"x": {"field": "e", "type": "quantitative", "scale": {"domain": [0, 100]}, "axis": {"values": [0, 25, 50, 75, 100]}}, "y": {"field": "v", "type": "quantitative", "scale": {"domain": [0.3, 0.8]}, "axis": {"values": [0.3, 0.4, 0.5, 0.6, 0.7, 0.8], "format": ".1f"}}}},
 {"data": {"values": [{"g": 0.7}]}, "mark": {"type": "rule", "color": "#a31515", "strokeWidth": 1.5}, "encoding": {"y": {"field": "g", "type": "quantitative", "axis": {"values": [0.3, 0.4, 0.5, 0.6, 0.7, 0.8], "format": ".1f"}}}}
]},
{"title": "D43", "width": 165, "height": 127, "layer": [
 {"data": {"name": "D43"}, "mark": {"type": "line", "color": "#2b7bba", "strokeWidth": 1.5}, "encoding": {"x": {"field": "e", "type": "quantitative", "scale": {"domain": [0, 100]}, "axis": {"values": [0, 25, 50, 75, 100]}}, "y": {"field": "v", "type": "quantitative", "scale": {"domain": [0.3, 0.8]}, "axis": {"values": [0.3, 0.4, 0.5, 0.6, 0.7, 0.8], "format": ".1f"}}}},
 {"data": {"values": [{"g": 0.7}]}, "mark": {"type": "rule", "color": "#a31515", "strokeWidth": 1.5}, "encoding": {"y": {"field": "g", "type": "quantitative", "axis": {"values": [0.3, 0.4, 0.5, 0.6, 0.7, 0.8], "format": ".1f"}}}}
]},
{"title": "D32", "width": 165, "height": 127, "layer": [
 {"data": {"name": "D32"}, "mark": {"type": "line", "color": "#2b7bba", "strokeWidth": 1.5}, "encoding": {"x": {"field": "e", "type": "quantitative", "scale": {"domain": [0, 100]}, "axis": {"values": [0, 25, 50, 75, 100]}}, "y": {"field": "v", "type": "quantitative", "scale": {"domain": [0.3, 0.8]}, "axis": {"values": [0.3, 0.4, 0.5, 0.6, 0.7, 0.8], "format": ".1f"}}}},
 {"data": {"values": [{"g": 0.7}]}, "mark": {"type": "rule", "color": "#a31515", "strokeWidth": 1.5}, "encoding": {"y": {"field": "g", "type": "quantitative", "axis": {"values": [0.3, 0.4, 0.5, 0.6, 0.7, 0.8], "format": ".1f"}}}}
]}
]}
]
}]
}
